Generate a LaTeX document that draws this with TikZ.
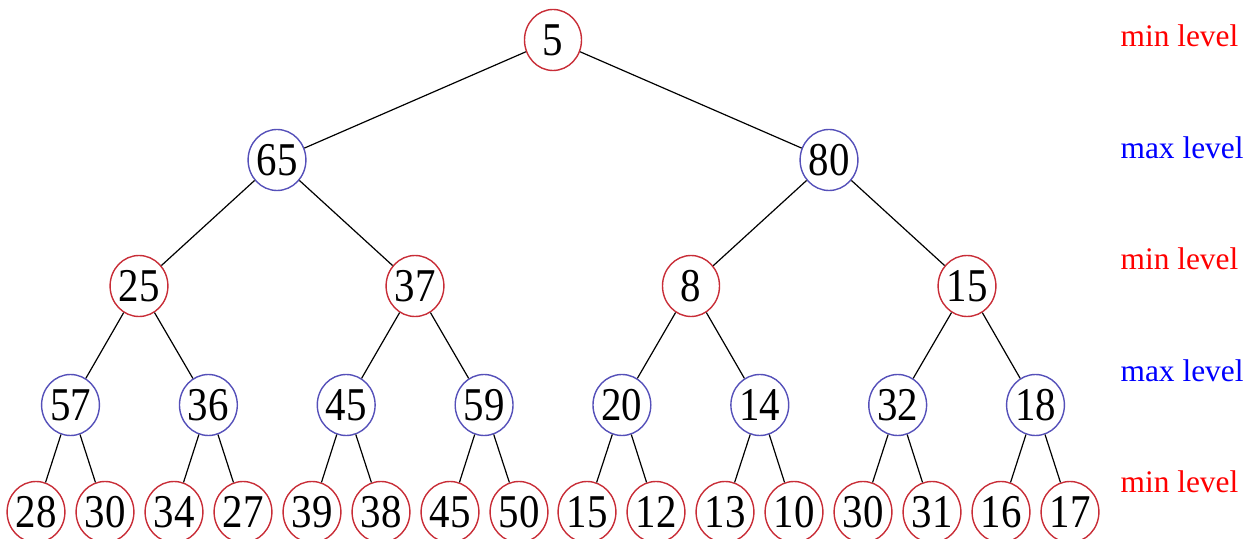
\documentclass[tikz,border=0pt]{standalone}
\usepackage{fontspec}
\setmainfont{Liberation Serif}
\newfontfamily\keyfont[FakeStretch=0.87]{Liberation Serif}
\usetikzlibrary{shapes.geometric}

\definecolor{minring}{RGB}{200,45,55}
\definecolor{maxring}{RGB}{85,80,185}

\tikzstyle{key}=[ellipse,draw,inner sep=0pt,minimum width=28.5pt,minimum height=30.5pt,line width=0.7pt,font={\fontsize{23.5}{26}\keyfont}]
\tikzstyle{minkey}=[key,draw=minring]
\tikzstyle{maxkey}=[key,draw=maxring]
\tikzstyle{levelname}=[anchor=base west,inner sep=0pt,font={\fontsize{15.7}{18}\selectfont}]

\begin{document}
\begin{tikzpicture}[x=0.5pt,y=-0.5pt,line width=0.6pt]
\useasboundingbox (0,0) rectangle (1254,539);

% ROOT
\node[minkey] (h1) at (553,40) {5};

% LEVEL 1
\node[maxkey] (h2) at (277,160) {65};
\node[maxkey] (h3) at (829,160) {80};

% LEVEL 2
\node[minkey] (h4) at (139,286) {25};
\node[minkey] (h5) at (415,286) {37};
\node[minkey] (h6) at (691,286) {8};
\node[minkey] (h7) at (967,286) {15};

% LEVEL 3
\node[maxkey] (h8)  at (70.5,405)  {57};
\node[maxkey] (h9)  at (208.4,405) {36};
\node[maxkey] (h10) at (346.2,405) {45};
\node[maxkey] (h11) at (484.1,405) {59};
\node[maxkey] (h12) at (621.9,405) {20};
\node[maxkey] (h13) at (759.8,405) {14};
\node[maxkey] (h14) at (897.7,405) {32};
\node[maxkey] (h15) at (1035.5,405) {18};

% LEVEL 4
\node[minkey] (h16) at (36,512)   {28};
\node[minkey] (h17) at (105,512)  {30};
\node[minkey] (h18) at (174,512)  {34};
\node[minkey] (h19) at (243,512)  {27};
\node[minkey] (h20) at (312,512)  {39};
\node[minkey] (h21) at (381,512)  {38};
\node[minkey] (h22) at (450,512)  {45};
\node[minkey] (h23) at (519,512)  {50};
\node[minkey] (h24) at (587,512)  {15};
\node[minkey] (h25) at (656,512)  {12};
\node[minkey] (h26) at (725,512)  {13};
\node[minkey] (h27) at (794,512)  {10};
\node[minkey] (h28) at (863,512)  {30};
\node[minkey] (h29) at (932,512)  {31};
\node[minkey] (h30) at (1001,512) {16};
\node[minkey] (h31) at (1070,512) {17};

% EDGES
\draw (h1) -- (h2) (h1) -- (h3);
\draw (h2) -- (h4) (h2) -- (h5) (h3) -- (h6) (h3) -- (h7);
\draw (h4) -- (h8) (h4) -- (h9) (h5) -- (h10) (h5) -- (h11);
\draw (h6) -- (h12) (h6) -- (h13) (h7) -- (h14) (h7) -- (h15);
\draw (h8) -- (h16) (h8) -- (h17) (h9) -- (h18) (h9) -- (h19);
\draw (h10) -- (h20) (h10) -- (h21) (h11) -- (h22) (h11) -- (h23);
\draw (h12) -- (h24) (h12) -- (h25) (h13) -- (h26) (h13) -- (h27);
\draw (h14) -- (h28) (h14) -- (h29) (h15) -- (h30) (h15) -- (h31);

% LEVEL NAMES
\node[levelname,text=red]  (lv0) at (1120,47)  {min level};
\node[levelname,text=blue] (lv1) at (1120,159) {max level};
\node[levelname,text=red]  (lv2) at (1120,270) {min level};
\node[levelname,text=blue] (lv3) at (1120,382) {max level};
\node[levelname,text=red]  (lv4) at (1120,493) {min level};

\end{tikzpicture}
\end{document}
